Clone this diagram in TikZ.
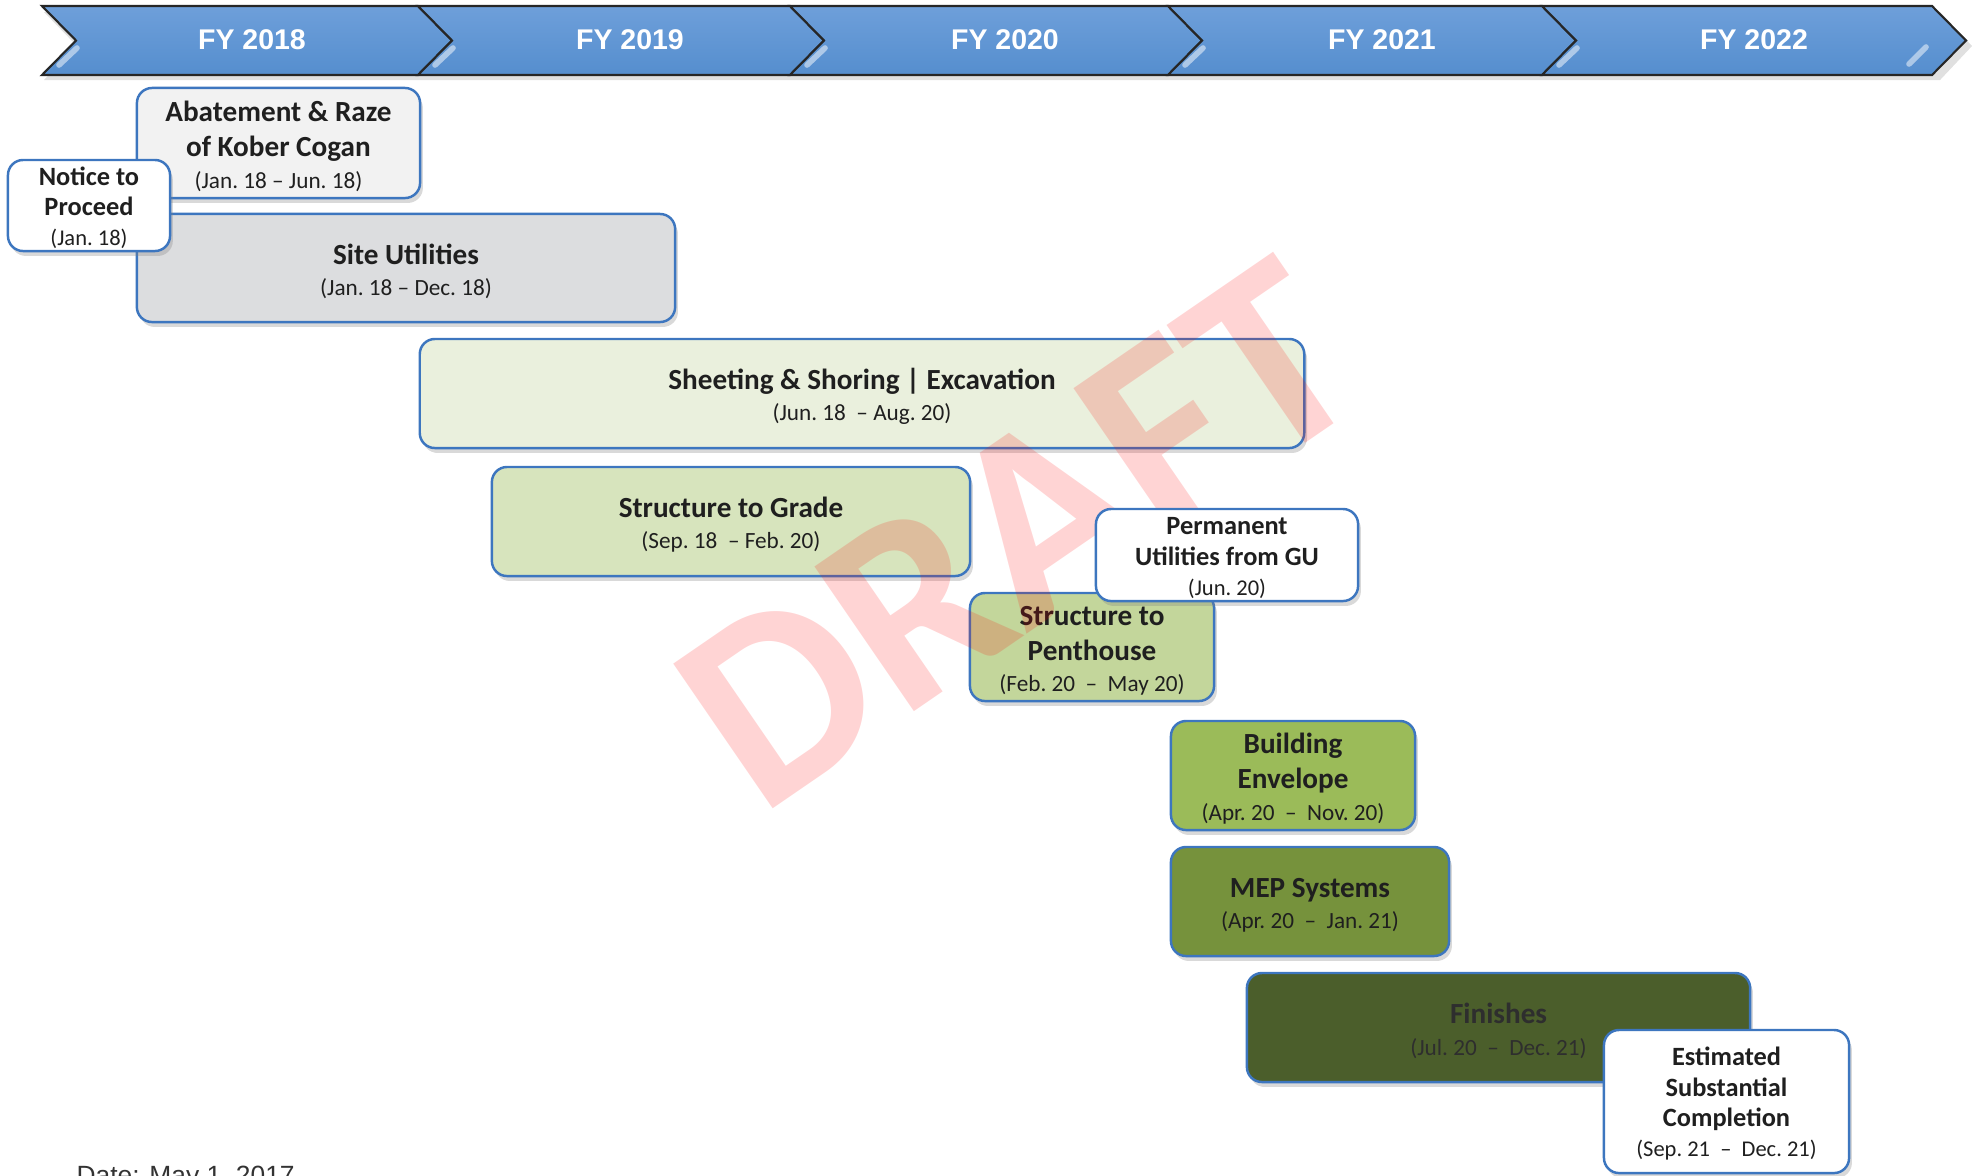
\documentclass[tikz,border=0pt]{standalone}
\usepackage{fontspec}
\setmainfont{Carlito}
\newfontfamily\fyfont{Liberation Sans}
\usetikzlibrary{shadows}

\definecolor{fyblue}{HTML}{4A86C8}
\definecolor{fytop}{HTML}{6E9FDA}
\definecolor{fybottom}{HTML}{558ECE}
\definecolor{boxline}{HTML}{3D76BF}
\definecolor{abatefill}{HTML}{F2F2F2}
\definecolor{sitefill}{HTML}{DCDDDF}
\definecolor{sheetfill}{HTML}{EAF0DD}
\definecolor{gradefill}{HTML}{D7E4BD}
\definecolor{pentfill}{HTML}{C3D69B}
\definecolor{envfill}{HTML}{9BBB59}
\definecolor{mepfill}{HTML}{76923C}
\definecolor{finfill}{HTML}{4B5E2B}

\newcommand{\datefont}{\fontsize{6.6}{8}\selectfont}
\newcommand{\msdate}{\fontsize{6.4}{8}\selectfont}
\newcommand{\boxtop}{\rule{0pt}{7.6pt}} % pushes a text block a bit down
\newcommand{\mstop}{\rule{0pt}{6.6pt}}

\begin{document}
\begin{tikzpicture}[
            x = 0.01cm, y = -0.01cm, % one unit = one pixel, y runs down
            font = \fontsize{8.3}{9.96}\selectfont, % phase titles
            text = black!88
        ]

        \tikzstyle{fyband}=[
            top color = fytop,
            middle color = fyblue,
            bottom color = fybottom,
            draw = black!85,
            line width = 0.6pt,
            line join = miter
        ]
        \tikzstyle{phase}=[
            draw = boxline,
            line width = 0.7pt,
            rounded corners = 4.3pt,
            align = center,
            inner sep = 0pt,
            drop shadow = {shadow xshift = 0.8pt, shadow yshift = -1.4pt, opacity = 0.3}
        ]
        \tikzstyle{milestone}=[
            phase,
            fill = white,
            font = \fontsize{7.5}{8.6}\selectfont
        ]

        \useasboundingbox (0,0) rectangle (1977,1175);

        % fiscal year band
        \fill[black, opacity = 0.12] (44,12) -- (1940,12) -- (1972,46) -- (1940,80) -- (44,80) -- (77,46) -- cycle;
        \foreach \b/\e/\yr/\lx in {42/418/2018/252, 418/790/2019/630, 790/1168/2020/1005, 1168/1542/2021/1382, 1542/1932/2022/1754} {
            \draw[fyband] (\b,6) -- (\e,6) -- ++(34,34.5) -- (\e,75) -- (\b,75) -- (\b+34,40.5) -- cycle;
            \draw[white, opacity = 0.5, line width = 1.6pt, line cap = round] (\b+17,65) -- (\b+35,48);
            \node[font = \fyfont\bfseries\fontsize{8.1}{10}\selectfont, text = white] (fy\yr) at (\lx,40) {FY \yr};
        }
        \draw[white, opacity = 0.5, line width = 1.6pt, line cap = round] (1909,64) -- (1926,47);

        % phases
        \node[phase, fill = abatefill, minimum width = 2.83cm, minimum height = 1.10cm] (abate) at (278.5,143)
            {{\boxtop\bfseries Abatement \& Raze}\\{\bfseries of Kober Cogan}\\[-1pt]{\datefont (Jan.~18 -- Jun.~18)}};
        \node[phase, fill = sitefill, minimum width = 5.38cm, minimum height = 1.08cm] (site) at (406,268)
            {{\boxtop\bfseries Site Utilities}\\[-1pt]{\datefont (Jan.~18 -- Dec.~18)}};
        \node[milestone, minimum width = 1.62cm, minimum height = 0.91cm] (ntp) at (89,205.5)
            {{\mstop\bfseries Notice to}\\{\bfseries Proceed}\\{\msdate (Jan.~18)}};

        \node[phase, fill = sheetfill, minimum width = 8.84cm, minimum height = 1.09cm] (sheet) at (862,393.5)
            {{\boxtop\bfseries Sheeting \& Shoring | Excavation}\\[-1pt]{\datefont (Jun.~18 ~-- Aug.~20)}};
        \node[phase, fill = gradefill, minimum width = 4.78cm, minimum height = 1.09cm] (grade) at (731,521.5)
            {{\boxtop\bfseries Structure to Grade}\\[-1pt]{\datefont (Sep.~18 ~-- Feb.~20)}};
        \node[phase, fill = pentfill, minimum width = 2.44cm, minimum height = 1.08cm] (pent) at (1092,647)
            {{\boxtop\bfseries Structure to}\\{\bfseries Penthouse}\\[-1pt]{\datefont (Feb.~20 ~--~ May 20)}};

        % watermark
        \node[rotate = 34.5, font = \bfseries\fontsize{77}{77}\selectfont, text = red, opacity = 0.17] (draft) at (1018,534) {DRAFT};

        \node[milestone, minimum width = 2.62cm, minimum height = 0.92cm] (gu) at (1227,555)
            {{\mstop\bfseries Permanent}\\{\bfseries Utilities from GU}\\{\msdate (Jun.~20)}};

        \node[phase, fill = envfill, minimum width = 2.44cm, minimum height = 1.09cm] (env) at (1293,775.5)
            {{\boxtop\bfseries Building}\\{\bfseries Envelope}\\[-1pt]{\datefont (Apr.~20 ~--~ Nov.~20)}};
        \node[phase, fill = mepfill, minimum width = 2.78cm, minimum height = 1.09cm] (mep) at (1310,901.5)
            {{\boxtop\bfseries MEP Systems}\\[-1pt]{\datefont (Apr.~20 ~--~ Jan.~21)}};
        \node[phase, fill = finfill, text = black!82, minimum width = 5.03cm, minimum height = 1.09cm] (fin) at (1498.5,1027.5)
            {{\boxtop\bfseries Finishes}\\[-1pt]{\datefont (Jul.~20 ~--~ Dec.~21)}};
        \node[milestone, minimum width = 2.45cm, minimum height = 1.43cm] (esc) at (1726.5,1101.5)
            {{\mstop\bfseries Estimated}\\{\bfseries Substantial}\\{\bfseries Completion}\\{\msdate (Sep.~21 ~--~ Dec.~21)}};

        \node[font = \fyfont\fontsize{7.5}{9}\selectfont, text = black!80, anchor = base west, inner sep = 0pt] (date) at (76,1184) {Date: May 1, 2017};

  \end{tikzpicture}
\end{document}
